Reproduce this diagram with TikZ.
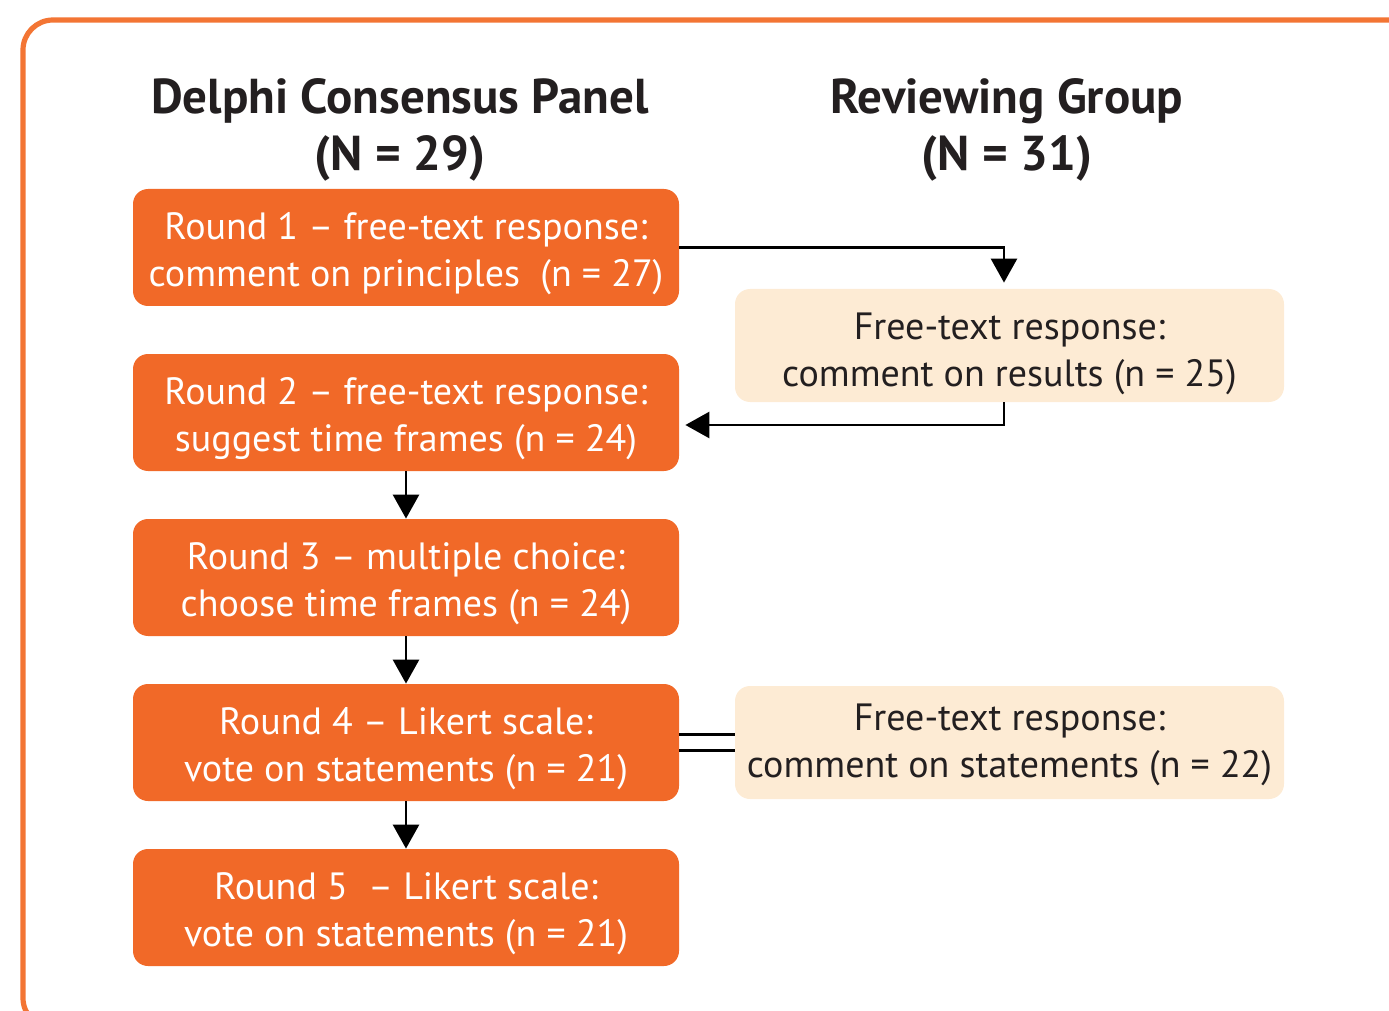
\documentclass[tikz,border=0pt]{standalone}
\usepackage{fontspec}
\setmainfont{PT Sans}
\usetikzlibrary{arrows.meta,calc}
\definecolor{dorange}{RGB}{241,105,40}
\definecolor{bordero}{RGB}{243,117,52}
\definecolor{lightb}{RGB}{253,235,212}
\definecolor{txt}{RGB}{35,31,32}
\newcommand\twoline[3]{\raisebox{-#1}[\height][\depth]{\begin{tabular}{@{}c@{}}#2\\#3\end{tabular}}}
\begin{document}
\begin{tikzpicture}[x=0.5pt,y=-0.5pt,
  roundbox/.style={rectangle,rounded corners=7.5pt,fill=dorange,text=white,
    minimum width=273pt,minimum height=58.5pt,inner sep=0pt,
    font=\fontsize{19}{23.5}\selectfont},
  revbox/.style={rectangle,rounded corners=7.5pt,fill=lightb,text=txt,
    minimum width=274.5pt,minimum height=56.5pt,inner sep=0pt,
    font=\fontsize{19}{23.5}\selectfont},
  head/.style={align=center,text=txt,font=\bfseries\fontsize{24.5}{28.5}\selectfont},
  conn/.style={line width=1.4pt,draw=black},
  arr/.style={conn,-{Triangle[width=13pt,length=12pt]}}]
\useasboundingbox (0,0) rectangle (1389,1011);
\begin{scope}
\clip (0,0) rectangle (1389,1011);
\draw[bordero,line width=2.6pt,rounded corners=15pt] (23,20) rectangle (1430,1028);
\end{scope}
\node[head] (h1) at (400,130) {Delphi Consensus Panel\\(N = 29)};
\node[head] (h2) at (1007,130) {Reviewing Group\\(N = 31)};
\node[roundbox] (r1) at (406,247.5) {\twoline{3pt}{Round 1 -- free-text response:}{comment on principles\ \ (n = 27)}};
\node[roundbox] (r2) at (406,412.5) {\twoline{3pt}{Round 2 -- free-text response:}{suggest time frames (n = 24)}};
\node[roundbox] (r3) at (406,577.5) {\twoline{3pt}{Round 3 -- multiple choice:}{choose time frames (n = 24)}};
\node[roundbox] (r4) at (406,742.5) {\twoline{3pt}{Round 4 -- Likert scale:}{vote on statements (n = 21)}};
\node[roundbox] (r5) at (406,907.5) {\twoline{3pt}{Round 5\ \ -- Likert scale:}{vote on statements (n = 21)}};
\node[revbox] (f1) at (1009.5,345.5) {\twoline{4pt}{Free-text response:}{comment on results (n = 25)}};
\node[revbox] (f2) at (1009.5,742.5) {\twoline{1pt}{Free-text response:}{comment on statements (n = 22)}};
\draw[arr,shorten >=3pt] (r1.east) -| ([xshift=-2.75pt]f1.north);
\draw[arr,shorten >=3pt] ([xshift=-2.75pt]f1.south) |- ([yshift=-6.25pt]r2.east);
\draw[arr] (r2.south) -- (r3.north);
\draw[arr] (r3.south) -- (r4.north);
\draw[arr] (r4.south) -- (r5.north);
\draw[conn] ([yshift=4pt]r4.east) -- ([yshift=4pt]f2.west);
\draw[conn] ([yshift=-4pt]r4.east) -- ([yshift=-4pt]f2.west);
\end{tikzpicture}
\end{document}
